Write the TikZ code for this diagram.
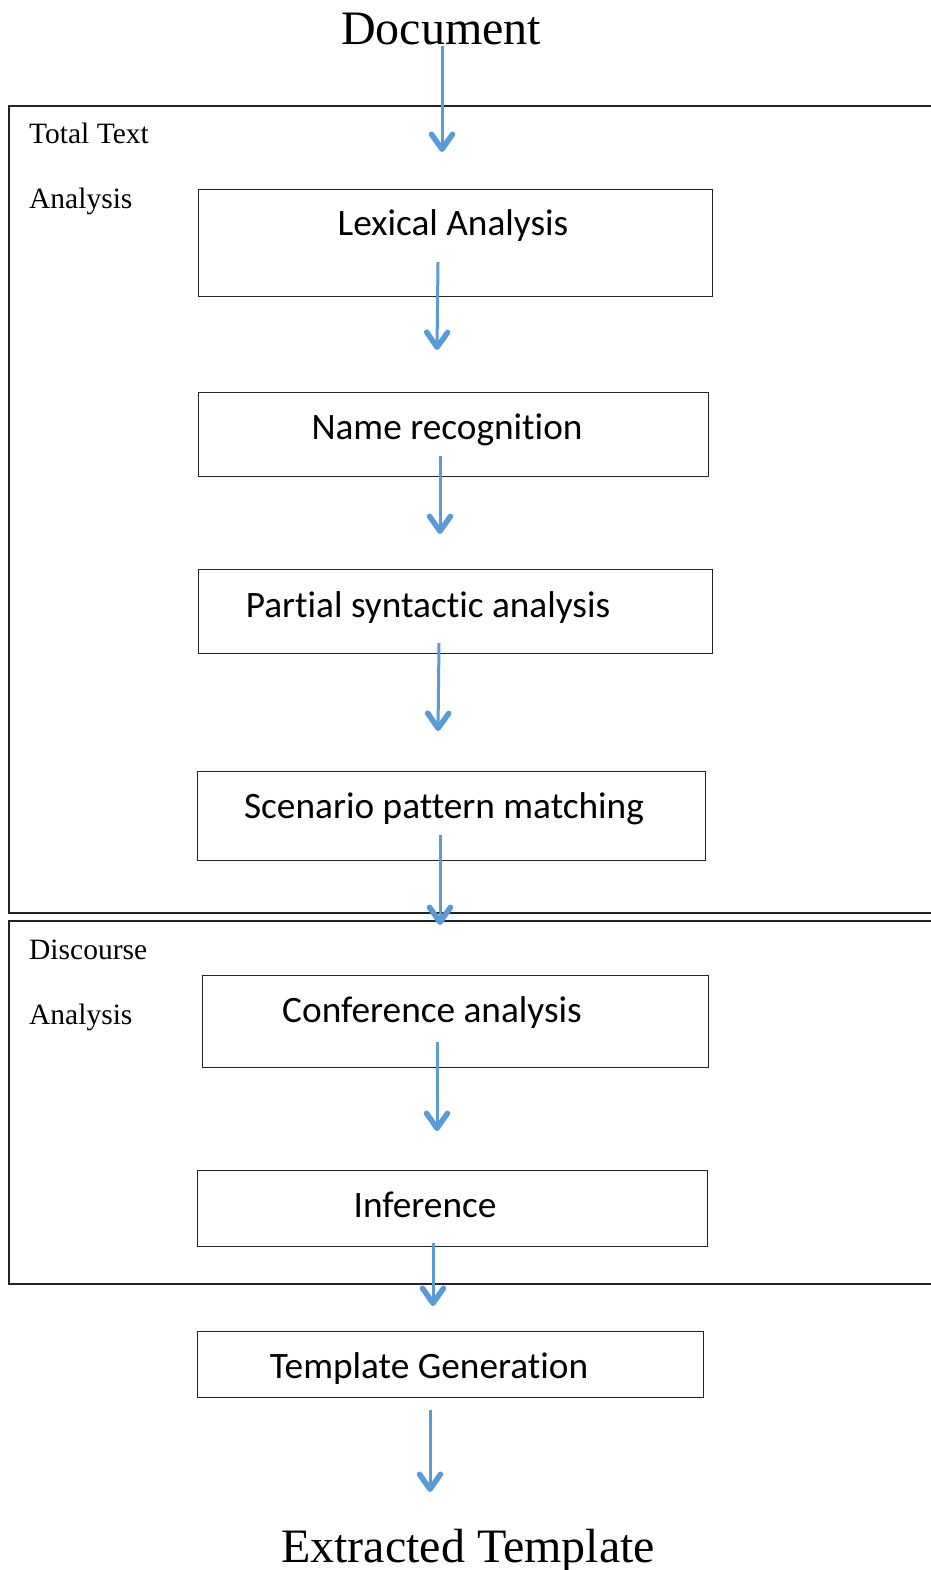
\documentclass[tikz,border=0pt]{standalone}
\usepackage{fontspec}
\setmainfont{Liberation Serif}
\newfontfamily\calib[Ligatures={NoCommon}]{Carlito}
\usetikzlibrary{arrows.meta}
\definecolor{arrowblue}{RGB}{91,155,213}
\definecolor{boxline}{RGB}{35,35,35}
\begin{document}
\begin{tikzpicture}[x=1pt,y=-1pt,
  frame/.style={draw=boxline,line width=1.3pt},
  stepbox/.style={draw=boxline,line width=1.3pt,inner sep=0pt,anchor=north west},
  steptext/.style={font=\calib\fontsize{37.3}{40}\selectfont,anchor=base,inner sep=0pt},
  sidelabel/.style={font=\fontsize{29.5}{31}\selectfont,anchor=base west,inner sep=0pt},
  bigtext/.style={font=\fontsize{48}{50}\selectfont,anchor=base,inner sep=0pt},
  flow/.style={draw=arrowblue,line width=3pt,
    -{Straight Barb[length=15pt,width=21pt,line width=5.5pt,round]}}]
\useasboundingbox (0,0) rectangle (930,1570);
% outer frames
\draw[frame] (940,106) -- (9,106) -- (9,913) -- (940,913);
\draw[frame] (940,921) -- (9,921) -- (9,1284) -- (940,1284);
% top / bottom texts
\node[bigtext] (doc) at (441,45) {Document};
\node[bigtext] (ext) at (468,1562) {Extracted Template};
% side labels
\node[sidelabel] (tt1) at (29,144) {Total Text};
\node[sidelabel] (tt2) at (29,209) {Analysis};
\node[sidelabel] (da1) at (29,959) {Discourse};
\node[sidelabel] (da2) at (29,1024) {Analysis};
% boxes
\node[stepbox,minimum width=514pt,minimum height=107pt] (b1) at (198,189) {};
\node[stepbox,minimum width=510pt,minimum height=84pt] (b2) at (198,392) {};
\node[stepbox,minimum width=514pt,minimum height=84pt] (b3) at (198,569) {};
\node[stepbox,minimum width=508pt,minimum height=89pt] (b4) at (197,771) {};
\node[stepbox,minimum width=506pt,minimum height=92pt] (b5) at (202,975) {};
\node[stepbox,minimum width=510pt,minimum height=76pt] (b6) at (197,1170) {};
\node[stepbox,minimum width=506pt,minimum height=66pt] (b7) at (197,1331) {};
% box texts
\node[steptext] (t1) at (453,236) {Lexical Analysis};
\node[steptext] (t2) at (447,439) {Name recognition};
\node[steptext] (t3) at (428,617) {Partial syntactic analysis};
\node[steptext] (t4) at (444,818) {Scenario pattern matching};
\node[steptext] (t5) at (432,1022) {Conference analysis};
\node[steptext] (t6) at (425,1217) {Inference};
\node[steptext] (t7) at (429,1378) {Template Generation};
% arrow end points
\coordinate (s1) at (442,46);   \coordinate (e1) at (442,152);
\coordinate (s2) at (438,262);  \coordinate (e2) at (437,350);
\coordinate (s3) at (440,456);  \coordinate (e3) at (440,534);
\coordinate (s4) at (439,643);  \coordinate (e4) at (438,731);
\coordinate (s5) at (440,835);  \coordinate (e5) at (440,925);
\coordinate (s6) at (437,1042); \coordinate (e6) at (437,1131);
\coordinate (s7) at (433,1243); \coordinate (e7) at (433,1306);
\coordinate (s8) at (430,1410); \coordinate (e8) at (430,1492);
\foreach \i in {1,...,8} { \draw[flow] (s\i) -- (e\i); }
\end{tikzpicture}
\end{document}
